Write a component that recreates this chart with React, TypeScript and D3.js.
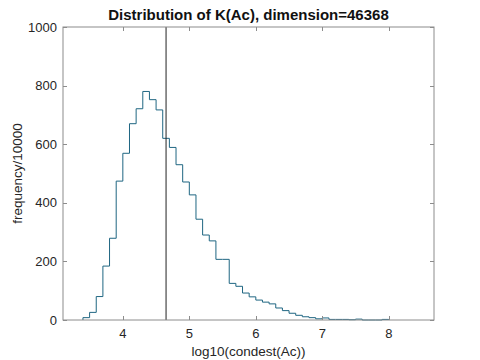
import React, { useEffect, useRef } from 'react';
import * as d3 from 'd3';

// left edges of the histogram bins (width 0.1)
const binLeft = [
  3.4, 3.5, 3.6, 3.7, 3.8, 3.9, 4.0, 4.1, 4.2, 4.3,
  4.4, 4.5, 4.6, 4.7, 4.8, 4.9, 5.0, 5.1, 5.2, 5.3,
  5.4, 5.5, 5.6, 5.7, 5.8, 5.9, 6.0, 6.1, 6.2, 6.3,
  6.4, 6.5, 6.6, 6.7, 6.8, 6.9, 7.0, 7.1, 7.2, 7.3,
  7.4, 7.5, 7.6, 7.7, 7.8, 7.9,
];
const binRight = 8.0;
const counts = [
  8, 26, 80, 184, 279, 474, 569, 670, 721, 780,
  752, 717, 620, 589, 530, 471, 427, 344, 290, 270,
  207, 207, 125, 115, 92, 79, 68, 61, 55, 41,
  32, 23, 16, 11, 8, 4, 7, 2, 2, 2,
  1, 3, 0, 0, 0, 2,
];
const markerX = 4.65;
const xTicks = [4, 5, 6, 7, 8];
const yTicks = [0, 200, 400, 600, 800, 1000];

const W = 480;
const H = 360;
const FONT = '"Liberation Sans", Arial, Helvetica, sans-serif';

const App: React.FC = () => {
  const svgRef = useRef<SVGSVGElement>(null);

  useEffect(() => {
    if (!svgRef.current) return;
    const svg = d3.select(svgRef.current);
    svg.selectAll('*').remove();

    const left = 63, right = 434, top = 27, bottom = 320;
    const x = d3.scaleLinear().domain([3.1, 8.68]).range([left, right]);
    const y = d3.scaleLinear().domain([0, 1000]).range([bottom, top]);

    svg.append('rect').attr('width', W).attr('height', H).attr('fill', '#fff');

    // stairs outline
    const pts: [number, number][] = [[binLeft[0], 0]];
    counts.forEach((c, i) => {
      const x1 = i + 1 < binLeft.length ? binLeft[i + 1] : binRight;
      pts.push([binLeft[i], c], [x1, c]);
    });
    pts.push([binRight, 0]);

    const line = d3.line<[number, number]>()
      .x(d => x(d[0]))
      .y(d => y(d[1]));

    svg.append('path')
      .attr('d', line(pts) || '')
      .attr('fill', 'none')
      .attr('stroke', '#1f6682')
      .attr('stroke-width', 1);

    svg.append('line')
      .attr('x1', x(markerX)).attr('x2', x(markerX))
      .attr('y1', y(0)).attr('y2', y(1000))
      .attr('stroke', '#222')
      .attr('stroke-width', 1);

    // axes box
    const axisColor = '#8c8c8c';
    svg.append('rect')
      .attr('x', left).attr('y', top)
      .attr('width', right - left).attr('height', bottom - top)
      .attr('fill', 'none')
      .attr('stroke', axisColor)
      .attr('stroke-width', 1);

    const tickLen = 4;
    xTicks.forEach(t => {
      const px = Math.round(x(t)) + 0.5;
      svg.append('line').attr('x1', px).attr('x2', px)
        .attr('y1', bottom).attr('y2', bottom - tickLen).attr('stroke', axisColor);
      svg.append('line').attr('x1', px).attr('x2', px)
        .attr('y1', top).attr('y2', top + tickLen).attr('stroke', axisColor);
      svg.append('text')
        .attr('x', x(t)).attr('y', bottom + 18)
        .attr('text-anchor', 'middle')
        .attr('font-family', FONT).attr('font-size', '13px')
        .attr('fill', '#262626')
        .text(t);
    });

    yTicks.forEach(t => {
      const py = Math.round(y(t)) + 0.5;
      svg.append('line').attr('x1', left).attr('x2', left + tickLen)
        .attr('y1', py).attr('y2', py).attr('stroke', axisColor);
      svg.append('line').attr('x1', right).attr('x2', right - tickLen)
        .attr('y1', py).attr('y2', py).attr('stroke', axisColor);
      svg.append('text')
        .attr('x', left - 6).attr('y', y(t))
        .attr('dy', '0.35em')
        .attr('text-anchor', 'end')
        .attr('font-family', FONT).attr('font-size', '13px')
        .attr('fill', '#262626')
        .text(t);
    });

    svg.append('text')
      .attr('x', (left + right) / 2).attr('y', 20)
      .attr('text-anchor', 'middle')
      .attr('font-family', FONT).attr('font-size', '15px')
      .attr('font-weight', 'bold')
      .attr('fill', '#111')
      .text('Distribution of K(Ac), dimension=46368');

    svg.append('text')
      .attr('x', (left + right) / 2).attr('y', 356)
      .attr('text-anchor', 'middle')
      .attr('font-family', FONT).attr('font-size', '13.5px')
      .attr('fill', '#262626')
      .text('log10(condest(Ac))');

    svg.append('text')
      .attr('transform', `translate(22, ${(top + bottom) / 2}) rotate(-90)`)
      .attr('text-anchor', 'middle')
      .attr('font-family', FONT).attr('font-size', '13.5px')
      .attr('fill', '#262626')
      .text('frequency/10000');
  }, []);

  return (
    <svg ref={svgRef} width={W} height={H}
      style={{ position: 'absolute', left: 0, top: 0, display: 'block' }} />
  );
};

export default App;
